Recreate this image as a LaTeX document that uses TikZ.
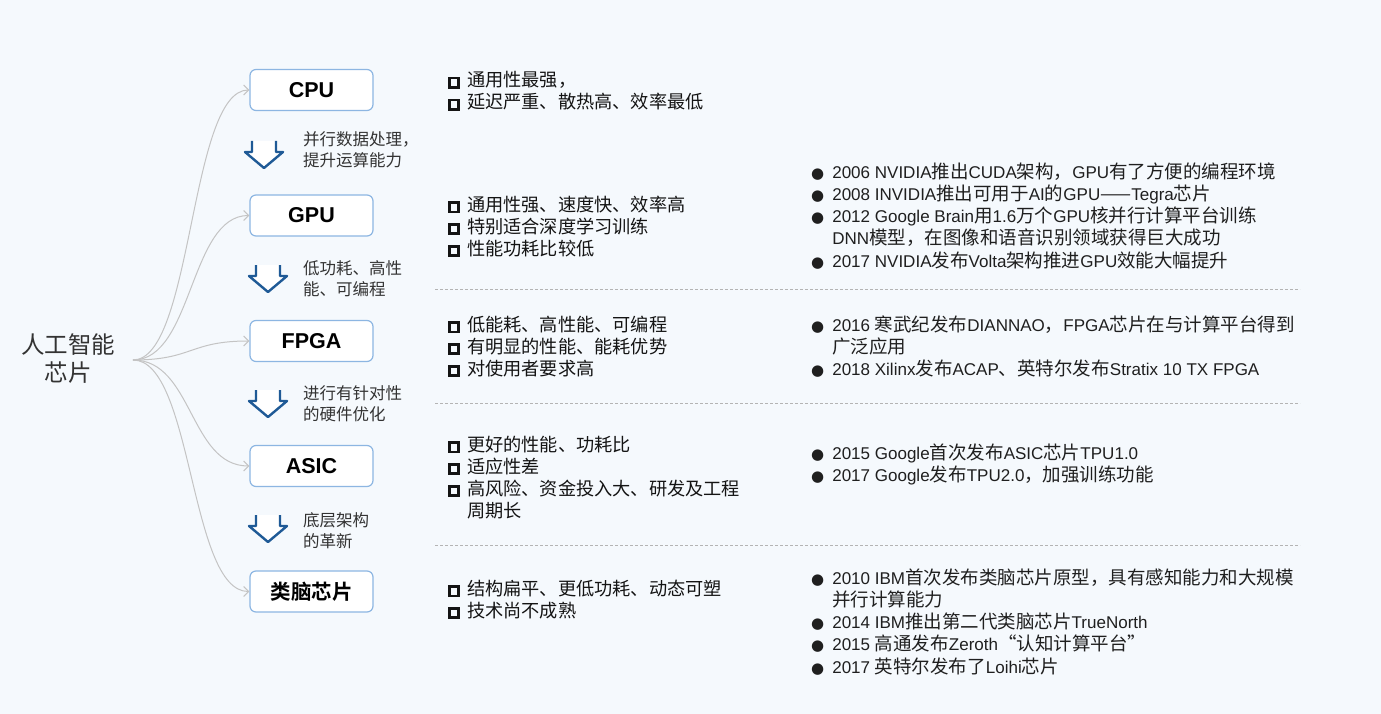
\documentclass[tikz,border=0pt]{standalone}
\usepackage{fontspec}
\setmainfont{Noto Sans CJK SC}[BoldFont={Noto Sans CJK SC Bold}]
\newfontfamily\dotfont{DejaVu Sans}
\newfontfamily\latin{Liberation Sans}[Scale=0.92]
\newfontfamily\latinfull{Liberation Sans}
\usepackage{xcolor}
\usetikzlibrary{arrows.meta}
\definecolor{bgblue}{HTML}{F5F9FD}
\definecolor{boxblue}{HTML}{8DB6E2}
\definecolor{arrowblue}{HTML}{1F5A96}
\definecolor{linkgray}{HTML}{C4C4C4}
\definecolor{sepgray}{HTML}{B4B4B4}
\newcommand{\chk}{{\setlength{\fboxsep}{0pt}\setlength{\fboxrule}{2.7pt}\raisebox{1pt}{\fbox{\rule{0pt}{6.5pt}\hspace{6.5pt}}}}}
\newcommand{\dotb}{{\dotfont\fontsize{15}{15}\selectfont ●}}
\newcommand{\en}[1]{{\latin #1}}
\newcommand{\chipen}[1]{{\latinfull\bfseries\fontsize{21.5}{25}\selectfont #1}}
\tikzset{
    chip/.style = {draw=boxblue, fill=white, line width=1.2pt, rounded corners=6pt, minimum width=123pt, minimum height=41pt, font=\fontsize{20.5}{24}\selectfont\bfseries},
    link/.style = {draw=linkgray, line width=1pt, -{Straight Barb[length=5pt,width=10pt]}},
    down-arrow/.style = {draw=arrowblue, fill=white, line width=2.4pt, line join=round},
    step-note/.style = {anchor=base west, inner sep=0pt, text=black!80, font=\fontsize{16.5}{21}\selectfont},
    pro-list/.style = {anchor=base west, inner sep=0pt, text=black!92, font=\fontsize{18.2}{21.7}\selectfont},
    history-list/.style = {anchor=base west, inner sep=0pt, text=black!88, font=\fontsize{18.5}{21.7}\selectfont},
    sep-line/.style = {draw=sepgray, line width=0.8pt, dash pattern=on 3pt off 2pt},
}

\begin{document}
\begin{tikzpicture}[x=1pt,y=-1pt]
\useasboundingbox (0,0) rectangle (1381,714);
\fill[bgblue] (0,0) rectangle (1381,714);

% root
\node[align=center, text=black!80, font=\fontsize{23.5}{28}\selectfont] (root) at (68,359) {人工智能\\芯片};
\coordinate (hub) at (133,360);

% chips
\node[chip] (cpu)   at (311.5,90)    {\chipen{CPU}};
\node[chip] (gpu)   at (311.5,215.5) {\chipen{GPU}};
\node[chip] (fpga)  at (311.5,341)   {\chipen{FPGA}};
\node[chip] (asic)  at (311.5,466)   {\chipen{ASIC}};
\node[chip] (brain) at (311.5,591.5) {类脑芯片};

\foreach \n in {cpu,gpu,fpga,asic,brain}
    \draw[link] (hub) .. controls +(60,0) and +(-60,0) .. (\n.west);

% evolution arrows
\foreach \x/\y in {264/141, 268/265, 268/390, 268/515}
    \draw[down-arrow] (\x-12,\y) -- (\x-12,\y+11) -- (\x-19,\y+11) -- (\x,\y+27) -- (\x+19,\y+11) -- (\x+12,\y+11) -- (\x+12,\y);

\node[step-note] (step1) at (303,146) {\begin{tabular}[t]{@{}l@{}}并行数据处理，\\提升运算能力\end{tabular}};
\node[step-note] (step2) at (303,274) {\begin{tabular}[t]{@{}l@{}}低功耗、高性\\能、可编程\end{tabular}};
\node[step-note] (step3) at (303,399) {\begin{tabular}[t]{@{}l@{}}进行有针对性\\的硬件优化\end{tabular}};
\node[step-note] (step4) at (303,526) {\begin{tabular}[t]{@{}l@{}}底层架构\\的革新\end{tabular}};

% features
\node[pro-list] (cpu-pro) at (448,87) {\begin{tabular}[t]{@{}l@{\hspace{7pt}}l@{}}
    \chk & 通用性最强，\\
    \chk & 延迟严重、散热高、效率最低
\end{tabular}};
\node[pro-list] (gpu-pro) at (448,211.5) {\begin{tabular}[t]{@{}l@{\hspace{7pt}}l@{}}
    \chk & 通用性强、速度快、效率高\\
    \chk & 特别适合深度学习训练\\
    \chk & 性能功耗比较低
\end{tabular}};
\node[pro-list] (fpga-pro) at (448,331.5) {\begin{tabular}[t]{@{}l@{\hspace{7pt}}l@{}}
    \chk & 低能耗、高性能、可编程\\
    \chk & 有明显的性能、能耗优势\\
    \chk & 对使用者要求高
\end{tabular}};
\node[pro-list] (asic-pro) at (448,451.5) {\begin{tabular}[t]{@{}l@{\hspace{7pt}}l@{}}
    \chk & 更好的性能、功耗比\\
    \chk & 适应性差\\
    \chk & 高风险、资金投入大、研发及工程\\
         & 周期长
\end{tabular}};
\node[pro-list] (brain-pro) at (448,595.5) {\begin{tabular}[t]{@{}l@{\hspace{7pt}}l@{}}
    \chk & 结构扁平、更低功耗、动态可塑\\
    \chk & 技术尚不成熟
\end{tabular}};

% history
\node[history-list] (gpu-hist) at (811,178.5) {\begin{tabular}[t]{@{}l@{\hspace{8pt}}l@{}}
    \dotb & \en{2006 NVIDIA}推出\en{CUDA}架构，\en{GPU}有了方便的编程环境\\
    \dotb & \en{2008 INVIDIA}推出可用于\en{AI}的\en{GPU}——\en{Tegra}芯片\\
    \dotb & \en{2012 Google Brain}用\en{1.6}万个\en{GPU}核并行计算平台训练\\
          & \en{DNN}模型，在图像和语音识别领域获得巨大成功\\
    \dotb & \en{2017 NVIDIA}发布\en{Volta}架构推进\en{GPU}效能大幅提升
\end{tabular}};
\node[history-list] (fpga-hist) at (811,331.5) {\begin{tabular}[t]{@{}l@{\hspace{8pt}}l@{}}
    \dotb & \en{2016 }寒武纪发布\en{DIANNAO}，\en{FPGA}芯片在与计算平台得到\\
          & 广泛应用\\
    \dotb & \en{2018 Xilinx}发布\en{ACAP}、英特尔发布\en{Stratix 10 TX FPGA}
\end{tabular}};
\node[history-list] (asic-hist) at (811,459.5) {\begin{tabular}[t]{@{}l@{\hspace{8pt}}l@{}}
    \dotb & \en{2015 Google}首次发布\en{ASIC}芯片\en{TPU1.0}\\
    \dotb & \en{2017 Google}发布\en{TPU2.0}，加强训练功能
\end{tabular}};
\node[history-list] (brain-hist) at (811,584.5) {\begin{tabular}[t]{@{}l@{\hspace{8pt}}l@{}}
    \dotb & \en{2010 IBM}首次发布类脑芯片原型，具有感知能力和大规模\\
          & 并行计算能力\\
    \dotb & \en{2014 IBM}推出第二代类脑芯片\en{TrueNorth}\\
    \dotb & \en{2015 }高通发布\en{Zeroth}“认知计算平台”\\
    \dotb & \en{2017 }英特尔发布了\en{Loihi}芯片
\end{tabular}};

% separators
\foreach \y in {289,403,545}
    \draw[sep-line] (435,\y) -- (1300,\y);
\end{tikzpicture}
\end{document}
